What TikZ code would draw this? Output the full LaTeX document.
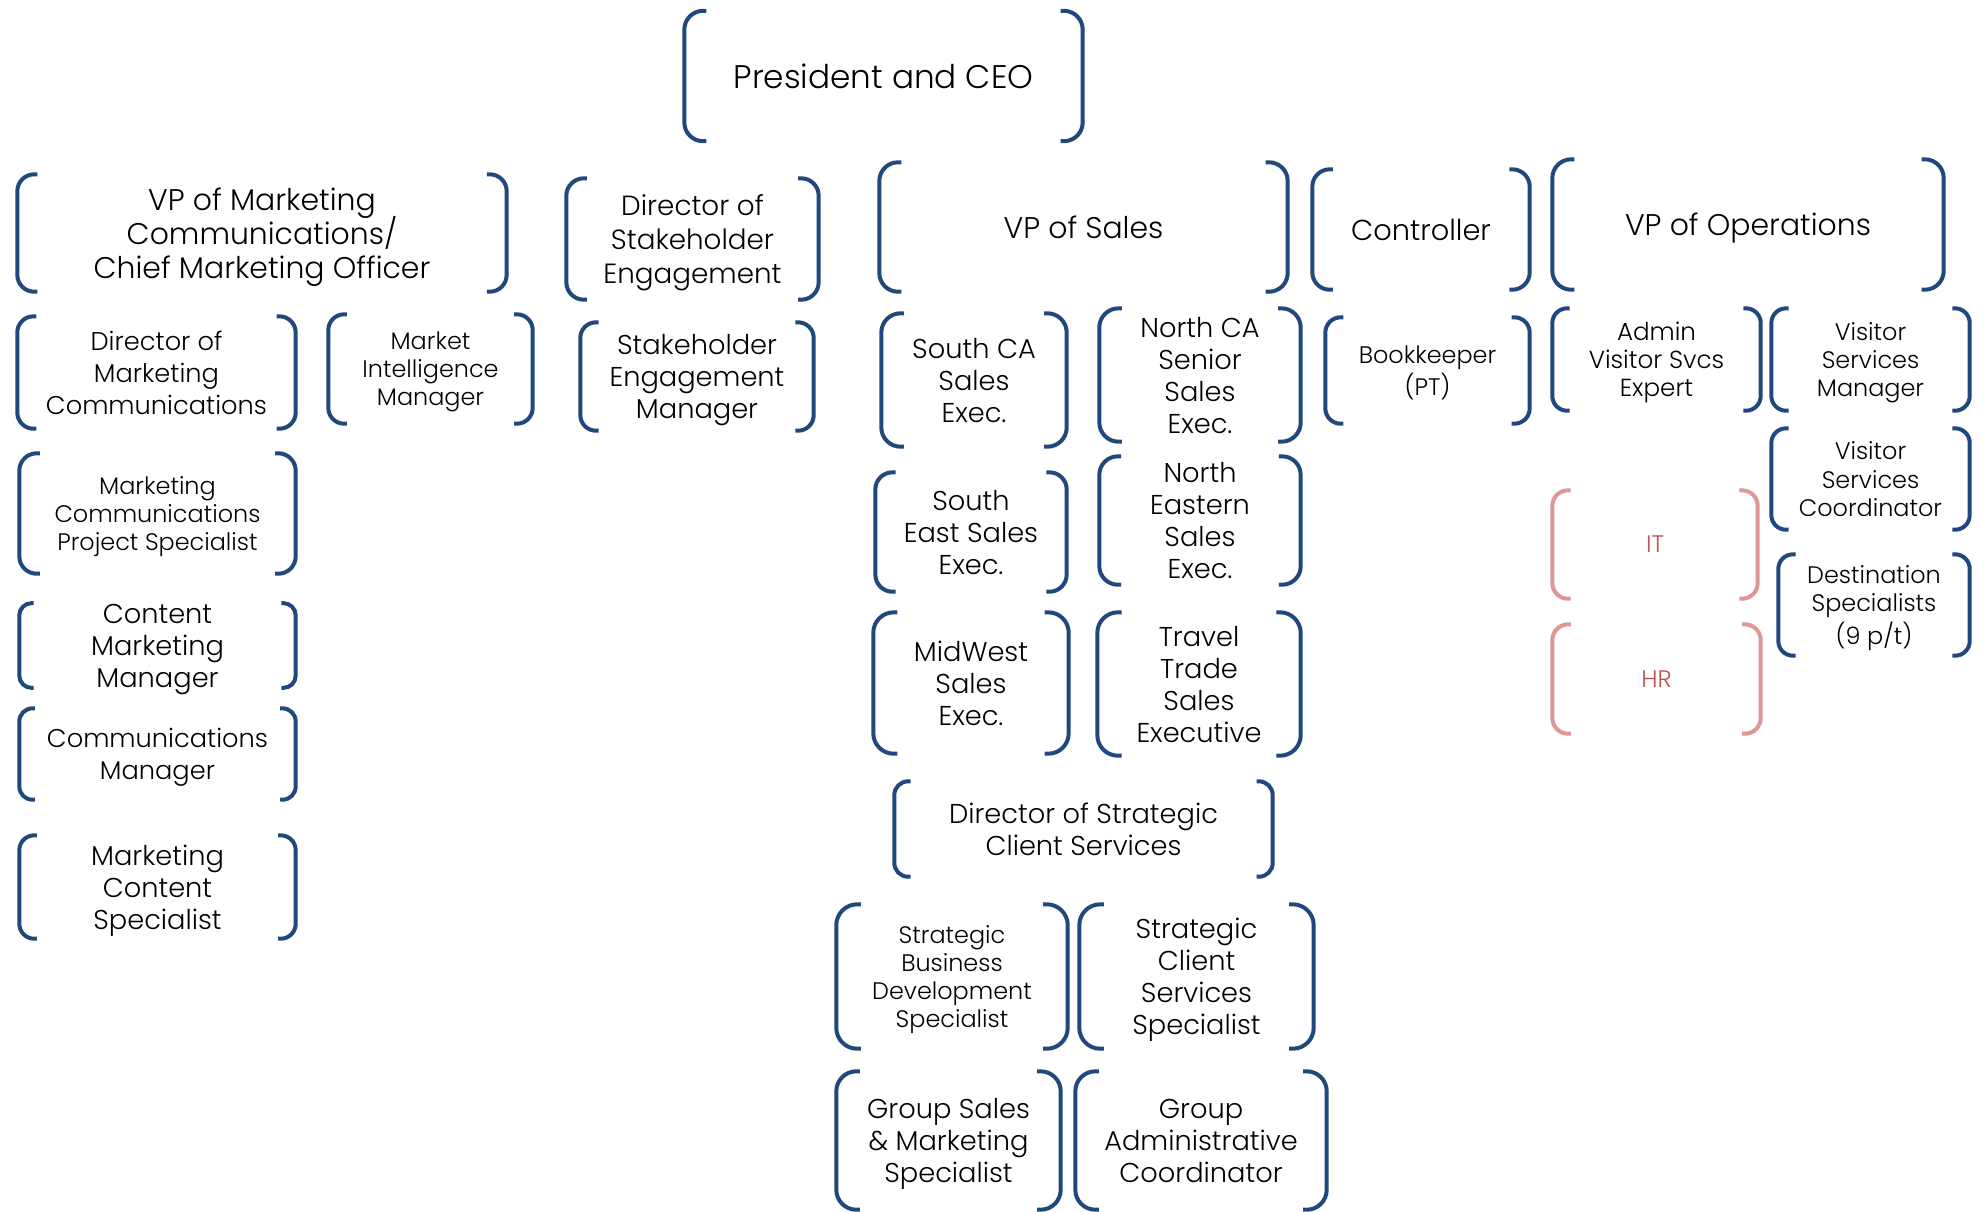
\documentclass[tikz,border=0pt]{standalone}
\usepackage{fontspec}
\setmainfont{Poppins}[UprightFont={* Light}]
\usepackage{xcolor}
\definecolor{unitblue}{RGB}{31, 73, 125}
\definecolor{softred}{RGB}{222, 150, 150}
\definecolor{textred}{RGB}{192, 80, 77}
\usepackage{tikz}
\usetikzlibrary{calc}

\tikzset{
  unit/.style={inner sep=0pt, align=center, text depth=0pt, font=\fontsize{7.75}{9.1}\selectfont},
  smallunit/.style={unit, font=\fontsize{6.8}{7.97}\selectfont},
  dims/.style 2 args={minimum width=#1*0.01cm, minimum height=#2*0.01cm},
  brk/.style={line width=0.04cm, unitblue},
  brkred/.style={line width=0.04cm, softred},
}

\begin{document}
\begin{tikzpicture}[x=0.01cm, y=-0.01cm]
    \fill[white] (0,0) rectangle (1985,1211);
    \useasboundingbox (0,0) rectangle (1985,1211);

    % top
    \node[unit, dims={397}{129}, font=\fontsize{9.3}{10}\selectfont] (ceo) at (883.5,76) {President and CEO};

    % direct reports
    \node[unit, dims={488}{116}, font={\fontsize{8.5}{9.7}\selectfont\lineskiplimit=-20pt\relax}] (vpmc) at (262,233) {VP of Marketing\\Communications/\\Chief Marketing Officer};
    \node[unit, dims={251}{120}, font=\fontsize{7.9}{9.55}\selectfont] (dse) at (692.5,239) {Director of\\Stakeholder\\Engagement};
    \node[unit, dims={407}{128}, font=\fontsize{8.5}{9.7}\selectfont] (vps) at (1083.5,227) {VP of Sales};
    \node[unit, dims={216}{119}, font=\fontsize{8.2}{9.7}\selectfont] (ctrl) at (1421,229.5) {Controller};
    \node[unit, dims={390}{129}, font=\fontsize{8.5}{9.7}\selectfont] (vpo) at (1748,224.5) {VP of Operations};

    % marketing
    \node[unit, dims={277}{111}, font=\fontsize{7.3}{9.1}\selectfont] (dmc) at (156.5,372.5) {Director of\\Marketing\\Communications};
    \node[smallunit, dims={203}{108}] (mim) at (430.5,369) {Market\\Intelligence\\Manager};
    \node[smallunit, dims={275}{119}] (mcps) at (157.5,513.5) {Marketing\\Communications\\Project Specialist};
    \node[unit, dims={275}{83}] (cmm) at (157.5,645.5) {Content\\Marketing\\Manager};
    \node[unit, dims={275}{90}, font=\fontsize{7.3}{9.1}\selectfont] (cm) at (157.5,754) {Communications\\Manager};
    \node[unit, dims={275}{102}] (mcs) at (157.5,887) {Marketing\\Content\\Specialist};

    % stakeholders
    \node[unit, dims={232}{107}] (sem) at (697,376.5) {Stakeholder\\Engagement\\Manager};

    % sales
    \node[unit, dims={184}{132}] (sca) at (974,380) {South CA\\Sales\\Exec.};
    \node[unit, dims={200}{132}] (nca) at (1200,375) {North CA\\Senior\\Sales\\Exec.};
    \node[unit, dims={190}{118}] (se) at (971,532) {South\\East Sales\\Exec.};
    \node[unit, dims={200}{127}] (ne) at (1200,520.5) {North\\Eastern\\Sales\\Exec.};
    \node[unit, dims={194}{140}] (mw) at (971,683) {MidWest\\Sales\\Exec.};
    \node[unit, dims={202}{142}] (tt) at (1199,684) {Travel\\Trade\\Sales\\Executive};
    \node[unit, dims={377}{94}] (dscs) at (1083.5,829) {Director of Strategic\\Client Services};
    \node[smallunit, dims={230}{143}] (sbds) at (952,976.5) {Strategic\\Business\\Development\\Specialist};
    \node[unit, dims={233}{143}] (scss) at (1196.5,976.5) {Strategic\\Client\\Services\\Specialist};
    \node[unit, dims={223}{137}] (gsms) at (948.5,1140.5) {Group Sales\\\& Marketing\\Specialist};
    \node[unit, dims={250}{137}] (gac) at (1201,1140.5) {Group\\Administrative\\Coordinator};

    % finance
    \node[smallunit, dims={203}{105}] (book) at (1427.5,370.5) {Bookkeeper\\(PT)};

    % operations
    \node[smallunit, dims={207}{101}, font=\fontsize{7}{7.97}\selectfont] (avse) at (1656.5,359.5) {Admin\\Visitor Svcs\\Expert};
    \node[smallunit, dims={197}{101}] (vsm) at (1870.5,359.5) {Visitor\\Services\\Manager};
    \node[smallunit, dims={197}{100}] (vsc) at (1870.5,479) {Visitor\\Services\\Coordinator};
    \node[smallunit, dims={190}{100}] (dest) at (1874,605) {Destination\\Specialists\\(9 p/t)};
    \node[smallunit, dims={204}{107}, text=textred] (it) at (1655,544.5) {IT};
    \node[smallunit, dims={207}{108}, text=textred] (hr) at (1656.5,679) {HR};

    % brackets
    \foreach \who in {ceo,vpmc,dse,vps,ctrl,vpo,dmc,mim,mcps,cmm,cm,mcs,sem,sca,nca,se,ne,mw,tt,dscs,sbds,scss,gsms,gac,book,avse,vsm,vsc,dest}
      \draw[brk] let \p1=(\who.north west), \p2=(\who.south east), \n1={0.17*(\y1-\y2)} in
        [rounded corners={0.85*\n1*1pt}]
        ({\x1+\n1*1pt},\y1) -- (\x1,\y1) -- (\x1,\y2) -- ({\x1+\n1*1pt},\y2)
        ({\x2-\n1*1pt},\y1) -- (\x2,\y1) -- (\x2,\y2) -- ({\x2-\n1*1pt},\y2);
    \foreach \who in {it,hr}
      \draw[brkred] let \p1=(\who.north west), \p2=(\who.south east), \n1={0.17*(\y1-\y2)} in
        [rounded corners={0.85*\n1*1pt}]
        ({\x1+\n1*1pt},\y1) -- (\x1,\y1) -- (\x1,\y2) -- ({\x1+\n1*1pt},\y2)
        ({\x2-\n1*1pt},\y1) -- (\x2,\y1) -- (\x2,\y2) -- ({\x2-\n1*1pt},\y2);
\end{tikzpicture}
\end{document}
